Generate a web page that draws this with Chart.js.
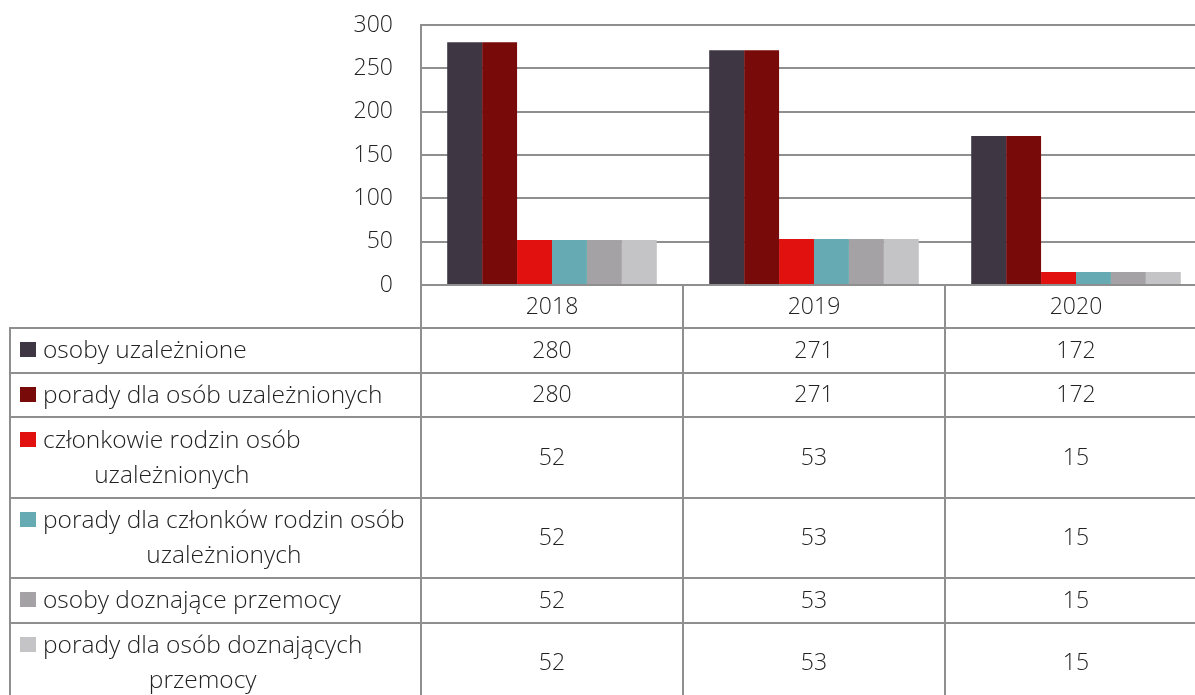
<!DOCTYPE html>
<html>
<head>
<meta charset="utf-8">
<script src="https://cdn.jsdelivr.net/npm/chart.js@4/dist/chart.umd.min.js"></script>
<style>
  html, body { margin: 0; padding: 0; overflow: hidden; background: #fff; }
</style>
</head>
<body>
<canvas id="chart" width="1210" height="700"></canvas>
<script>
// data
const years = ["2018", "2019", "2020"];
const seriesNames = [
  ["osoby uzależnione"],
  ["porady dla osób uzależnionych"],
  ["członkowie rodzin osób", "uzależnionych"],
  ["porady dla członków rodzin osób", "uzależnionych"],
  ["osoby doznające przemocy"],
  ["porady dla osób doznających", "przemocy"]
];
const osobyUzaleznione = [280, 271, 172];
const poradyUzaleznione = [280, 271, 172];
const czlonkowieRodzin = [52, 53, 15];
const poradyCzlonkowie = [52, 53, 15];
const osobyPrzemoc = [52, 53, 15];
const poradyPrzemoc = [52, 53, 15];
const yTicks = [0, 50, 100, 150, 200, 250, 300];

const colors = ["#3e3642", "#790a0a", "#e0110f", "#66abb4", "#a4a2a5", "#c4c4c6"];
const seriesValues = [osobyUzaleznione, poradyUzaleznione, czlonkowieRodzin,
                      poradyCzlonkowie, osobyPrzemoc, poradyPrzemoc];

const FONT = "'Open Sans', sans-serif";
const TEXT = "#222222";
const LINE = "#8f8f8f";

// draws the data table under the plot, aligned to the x scale
const dataTable = {
  id: "dataTable",
  afterDraw(chart) {
    const { ctx, chartArea, scales: { x } } = chart;
    const n = years.length;
    const colW = (x.right - x.left) / n;
    const tableLeft = 10;
    const textX = 43;
    const headerTop = chartArea.bottom;
    const headerBottom = headerTop + 43;

    const rowTops = [];
    let y = headerBottom;
    chart.data.datasets.forEach(ds => {
      const h = ds.label.length > 1 ? 80.5 : 44.5;
      rowTops.push([y, y + h]);
      y += h;
    });
    const tableBottom = y;

    ctx.save();
    ctx.strokeStyle = LINE;
    ctx.lineWidth = 2;
    ctx.beginPath();
    // column dividers
    for (let i = 0; i <= n; i++) {
      const cx = Math.round(x.left + i * colW);
      ctx.moveTo(cx, headerTop);
      ctx.lineTo(cx, tableBottom);
    }
    ctx.moveTo(tableLeft, headerBottom);
    ctx.lineTo(tableLeft, tableBottom);
    // row lines
    ctx.moveTo(x.left, headerTop);
    ctx.lineTo(chart.width, headerTop);
    rowTops.forEach(([t, b]) => {
      ctx.moveTo(tableLeft - 1, Math.round(t));
      ctx.lineTo(chart.width, Math.round(t));
      ctx.moveTo(tableLeft - 1, Math.round(b));
      ctx.lineTo(chart.width, Math.round(b));
    });
    ctx.stroke();

    ctx.fillStyle = TEXT;
    ctx.textBaseline = "middle";
    ctx.textAlign = "center";
    ctx.font = "300 23px " + FONT;
    years.forEach((yr, i) => {
      ctx.fillText(yr, x.getPixelForValue(i), (headerTop + headerBottom) / 2 + 1);
    });

    const lineH = 35;
    chart.data.datasets.forEach((ds, r) => {
      const [t, b] = rowTops[r];
      const mid = (t + b) / 2;
      const lines = ds.label;
      const firstY = mid - (lines.length - 1) * lineH / 2;
      // legend key
      ctx.fillStyle = ds.backgroundColor;
      ctx.fillRect(20, Math.round(firstY - 8), 16, 15);
      // label, centred over its widest line
      ctx.fillStyle = TEXT;
      ctx.font = "300 24.5px " + FONT;
      const maxW = Math.max(...lines.map(l => ctx.measureText(l).width));
      lines.forEach((l, k) => {
        ctx.fillText(l, textX + maxW / 2, firstY + k * lineH + 1);
      });
      // values
      ctx.font = "300 23px " + FONT;
      ds.data.forEach((v, i) => {
        ctx.fillText(String(v), x.getPixelForValue(i), mid + 1);
      });
    });
    ctx.restore();
  }
};

new Chart(document.getElementById("chart"), {
  type: "bar",
  data: {
    labels: years,
    datasets: seriesNames.map((name, i) => ({
      label: name,
      data: seriesValues[i],
      backgroundColor: colors[i],
      borderWidth: 0,
      categoryPercentage: 0.8,
      barPercentage: 1.0
    }))
  },
  options: {
    responsive: false,
    animation: false,
    layout: { padding: { left: 0, right: 3, top: 25, bottom: 415 } },
    plugins: {
      legend: { display: false },
      tooltip: { enabled: false }
    },
    scales: {
      x: { display: false },
      y: {
        min: 0,
        max: 300,
        afterBuildTicks: s => { s.ticks = yTicks.map(v => ({ value: v })); },
        afterFit: s => { s.width = 421; s.paddingTop = 0; s.paddingBottom = 0; },
        grid: { color: LINE, lineWidth: 2, drawTicks: false },
        border: { display: true, color: LINE, width: 2 },
        ticks: {
          padding: 28,
          color: TEXT,
          font: { family: FONT, size: 23, weight: "300" }
        }
      }
    }
  },
  plugins: [dataTable]
});
</script>
</body>
</html>
